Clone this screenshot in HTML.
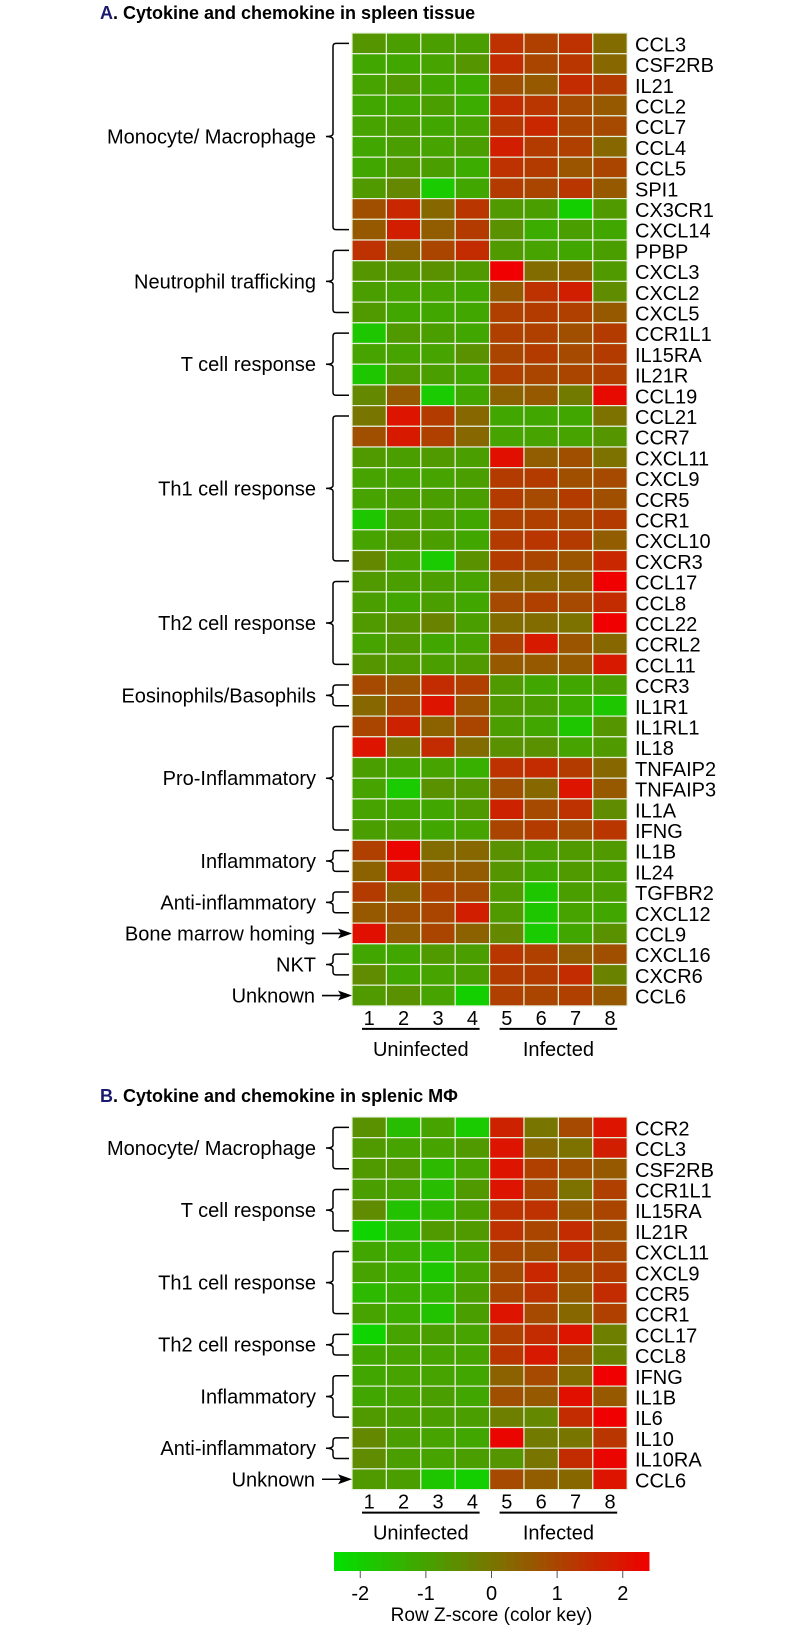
<!DOCTYPE html>
<html><head><meta charset="utf-8"><style>
html,body{margin:0;padding:0;background:#fff;}
svg{display:block;font-family:"Liberation Sans",Arial,sans-serif;}
</style></head><body>
<svg id="chart" width="800" height="1627" viewBox="0 0 800 1627" xmlns="http://www.w3.org/2000/svg">
<text x="100" y="19" font-size="18" font-weight="bold"><tspan fill="#1a1a70">A</tspan>. Cytokine and chemokine in spleen tissue</text>
<text x="100" y="1102" font-size="18" font-weight="bold"><tspan fill="#1a1a70">B</tspan>. Cytokine and chemokine in splenic MΦ</text>
<g id="gA"></g>
<g id="gB"></g>
<g id="gKey"></g>
</svg>
<script>
const genesA=["CCL3","CSF2RB","IL21","CCL2","CCL7","CCL4","CCL5","SPI1","CX3CR1","CXCL14","PPBP","CXCL3","CXCL2","CXCL5","CCR1L1","IL15RA","IL21R","CCL19","CCL21","CCR7","CXCL11","CXCL9","CCR5","CCR1","CXCL10","CXCR3","CCL17","CCL8","CCL22","CCRL2","CCL11","CCR3","IL1R1","IL1RL1","IL18","TNFAIP2","TNFAIP3","IL1A","IFNG","IL1B","IL24","TGFBR2","CXCL12","CCL9","CXCL16","CXCR6","CCL6"];
const valuesA=[
[-0.7,-0.9,-0.9,-0.9,1.4,1.1,1.4,0.2],
[-1.1,-1.1,-1.0,-0.7,1.5,1.0,1.3,0.3],
[-1.0,-0.8,-1.1,-1.2,0.8,0.6,1.5,1.2],
[-1.1,-1.1,-0.9,-1.2,1.5,1.3,0.9,0.6],
[-1.0,-0.9,-1.1,-1.0,1.3,1.6,1.0,0.9],
[-1.1,-0.9,-1.0,-0.9,1.8,1.2,1.1,0.3],
[-1.1,-0.8,-0.9,-1.2,1.4,1.2,0.7,1.0],
[-0.8,-0.4,-1.9,-1.1,1.2,1.0,1.3,0.6],
[0.8,1.6,0.3,1.3,-0.8,-0.9,-2.0,-0.8],
[0.6,1.8,0.5,1.2,-0.6,-1.2,-0.9,-1.1],
[1.4,0.4,1.0,1.5,-0.8,-1.0,-1.1,-0.9],
[-0.7,-0.7,-0.6,-0.8,2.4,0.2,0.4,-0.8],
[-0.9,-1.0,-1.0,-1.1,0.6,1.4,1.8,-0.5],
[-0.8,-1.1,-1.1,-1.1,1.1,1.2,1.1,0.6],
[-1.8,-0.8,-0.9,-1.1,1.1,1.1,0.8,1.2],
[-1.0,-1.0,-1.0,-0.6,1.0,1.2,0.9,1.2],
[-1.8,-0.8,-0.9,-1.1,1.1,1.0,1.0,1.1],
[-0.4,0.6,-1.9,-1.1,0.4,0.6,-0.1,2.2],
[0.0,2.0,1.2,0.3,-1.1,-1.1,-1.1,0.1],
[0.8,1.9,1.1,0.3,-1.0,-1.0,-1.0,-0.7],
[-0.8,-0.9,-0.8,-0.9,2.1,0.5,0.8,0.1],
[-1.0,-1.0,-1.0,-0.9,1.2,1.2,0.8,0.9],
[-1.0,-0.9,-0.9,-0.9,1.2,0.9,1.2,0.8],
[-1.8,-0.9,-0.9,-1.1,1.1,1.1,1.0,1.2],
[-1.0,-0.8,-0.9,-1.1,1.2,1.3,1.2,0.5],
[-0.4,-1.0,-1.9,-0.6,1.2,1.0,0.7,1.6],
[-0.8,-0.9,-0.9,-1.0,0.3,0.3,0.4,2.4],
[-0.9,-1.1,-0.9,-1.1,0.9,1.1,0.9,1.5],
[-0.8,-0.6,-0.3,-0.9,0.2,0.2,0.1,2.4],
[-1.0,-0.8,-1.1,-1.0,1.1,1.9,0.7,0.3],
[-0.7,-0.8,-0.9,-0.8,0.6,0.6,0.6,1.9],
[0.9,0.7,1.5,1.1,-0.8,-1.1,-1.1,-0.9],
[0.3,0.9,2.0,0.7,-0.8,-0.9,-1.2,-1.8],
[1.0,1.7,0.4,1.0,-0.9,-1.1,-1.8,-0.7],
[2.0,0.0,1.5,0.2,-0.6,-0.6,-1.0,-0.8],
[-0.9,-1.1,-1.0,-1.3,1.4,1.5,1.2,0.3],
[-1.0,-1.9,-0.6,-0.7,0.8,0.3,2.0,0.6],
[-1.0,-1.1,-1.1,-0.8,1.7,0.9,1.4,-0.5],
[-0.9,-0.9,-1.1,-1.0,1.0,1.2,0.9,1.3],
[1.1,2.3,0.2,0.3,-0.6,-0.9,-0.8,-0.8],
[0.4,2.0,0.6,0.5,-0.7,-1.1,-0.8,-0.9],
[1.2,0.4,1.1,0.9,-0.8,-1.8,-0.9,-0.9],
[0.6,0.8,1.0,1.8,-0.8,-1.8,-1.0,-1.1],
[2.1,0.5,1.0,0.4,-0.4,-1.9,-1.1,-0.6],
[-1.1,-1.1,-0.8,-0.9,1.3,1.1,0.5,0.8],
[-0.5,-1.1,-1.0,-0.9,1.2,1.2,1.5,-0.3],
[-0.8,-0.6,-1.0,-2.0,1.1,1.0,1.1,0.6]];
const groupsA=[["Monocyte/ Macrophage",0,9],["Neutrophil trafficking",10,13],["T cell response",14,17],["Th1 cell response",18,25],["Th2  cell response",26,30],["Eosinophils/Basophils",31,32],["Pro-Inflammatory",33,38],["Inflammatory",39,40],["Anti-inflammatory",41,42],["Bone marrow homing",43,43],["NKT",44,45],["Unknown",46,46]];
const genesB=["CCR2","CCL3","CSF2RB","CCR1L1","IL15RA","IL21R","CXCL11","CXCL9","CCR5","CCR1","CCL17","CCL8","IFNG","IL1B","IL6","IL10","IL10RA","CCL6"];
const valuesB=[
[-0.6,-1.6,-1.0,-1.9,1.7,0.0,0.9,2.0],
[-0.8,-1.0,-1.0,-0.8,2.0,0.3,0.1,1.8],
[-0.8,-0.8,-1.5,-1.0,2.0,1.1,0.8,0.6],
[-0.9,-1.0,-1.6,-0.8,2.0,1.0,0.1,1.1],
[-0.5,-1.7,-1.5,-0.9,1.4,1.4,0.6,1.0],
[-2.1,-1.6,-0.8,-0.8,1.4,1.0,1.5,0.8],
[-1.1,-1.2,-1.6,-1.0,1.0,0.8,1.5,1.0],
[-1.0,-1.2,-1.8,-1.0,0.9,1.6,0.8,1.2],
[-1.5,-1.2,-1.4,-0.9,1.0,1.4,0.6,1.5],
[-1.0,-1.2,-1.7,-0.9,2.0,0.9,0.3,1.1],
[-2.1,-1.0,-0.9,-1.0,1.1,1.5,2.0,-0.2],
[-1.1,-1.0,-1.0,-1.0,1.3,1.9,0.7,-0.3],
[-1.1,-1.0,-1.0,-1.1,0.4,0.9,0.2,2.4],
[-1.1,-1.0,-0.9,-1.1,0.8,0.6,2.1,0.6],
[-0.8,-0.9,-0.9,-0.9,-0.2,-0.4,1.5,2.4],
[-0.4,-0.9,-1.0,-1.1,2.3,-0.1,0.0,1.3],
[-0.5,-0.9,-1.0,-0.9,-0.7,0.0,1.5,2.3],
[-0.8,-0.9,-1.8,-2.0,0.9,0.5,0.3,2.0]];
const groupsB=[["Monocyte/ Macrophage",0,2],["T cell response",3,5],["Th1 cell response",6,9],["Th2  cell response",10,11],["Inflammatory",12,14],["Anti-inflammatory",15,16],["Unknown",17,17]];
const sampleLabels=["1","2","3","4","5","6","7","8"];
const keyTicks=[-2,-1,0,1,2];

const NS="http://www.w3.org/2000/svg";
const X0=352,COLW=34.4,ROWH=20.7,ZMIN=-2.4,ZMAX=2.4;
function mk(tag,attrs,parent){const e=document.createElementNS(NS,tag);for(const k in attrs)e.setAttribute(k,attrs[k]);parent.appendChild(e);return e;}
function color(z){z=Math.max(ZMIN,Math.min(ZMAX,z));let r,g,b=0;
 if(z<0){const t=(z-ZMIN)/(0-ZMIN);r=0+120*t;g=225+(118-225)*t;}
 else{const t=z/ZMAX;r=120+(240-120)*t;g=118*(1-t);}
 return `rgb(${Math.round(r)},${Math.round(g)},${Math.round(b)})`;}
function xCol(c){return X0+c*COLW;}
function drawPanel(g,top,genes,vals,groups,lblY){
 const n=genes.length;
 vals.forEach((row,r)=>row.forEach((v,c)=>{
  const el=mk('rect',{x:xCol(c),y:top+r*ROWH,width:COLW,height:ROWH,fill:color(v),stroke:'#e4efd8','stroke-width':1.2},g);
  
  
 }));
 genes.forEach((gn,r)=>{const t=mk('text',{x:635,y:top+(r+0.5)*ROWH+8,'font-size':20},g);t.textContent=gn;
  
  });
 groups.forEach(([name,a,b])=>{
  const y1=top+(a+0.5)*ROWH,y2=top+(b+0.5)*ROWH,ym=(y1+y2)/2;
  let shape;
  if(a===b){
   shape=mk('g',{},g);
   mk('line',{x1:322,y1:ym,x2:343,y2:ym,stroke:'#000','stroke-width':1.6},shape);
   mk('polygon',{points:`${352},${ym} ${338},${ym-5} ${341},${ym} ${338},${ym+5}`,fill:'#000'},shape);
  } else {
   shape=mk('path',{d:`M349,${y1} L336,${y1} Q333,${y1} 333,${y1+3} L333,${ym-3} Q333,${ym} 326,${ym} Q333,${ym} 333,${ym+3} L333,${y2-3} Q333,${y2} 336,${y2} L349,${y2}`,fill:'none',stroke:'#000','stroke-width':1.5},g);
  }
  
  
  const t=mk('text',{x:a===b?315:316,y:ym+7,'font-size':20,'text-anchor':'end'},g);t.textContent=name;
  
  
 });
 const bottom=top+n*ROWH;
 sampleLabels.forEach((s,c)=>{const t=mk('text',{x:xCol(c)+COLW/2,y:bottom+19,'font-size':20,'text-anchor':'middle'},g);t.textContent=s;
  
  });
 const u1=mk('line',{x1:xCol(0)+10,y1:bottom+23,x2:xCol(4)-10,y2:bottom+23,stroke:'#000','stroke-width':2},g);
 
 
 const u2=mk('line',{x1:xCol(4)+10,y1:bottom+23,x2:xCol(8)-10,y2:bottom+23,stroke:'#000','stroke-width':2},g);
 
 
 const t1=mk('text',{x:(xCol(0)+xCol(4))/2,y:bottom+50,'font-size':20,'text-anchor':'middle'},g);t1.textContent='Uninfected';
 
 
 const t2=mk('text',{x:(xCol(4)+xCol(8))/2,y:bottom+50,'font-size':20,'text-anchor':'middle'},g);t2.textContent='Infected';
 
 
}
drawPanel(document.getElementById('gA'),33,genesA,valuesA,groupsA);
drawPanel(document.getElementById('gB'),1117,genesB,valuesB,groupsB);

// color key
const gk=document.getElementById('gKey');
const KX0=334,KX1=649,KY=1552,KH=19;
function kx(z){return KX0+(z-ZMIN)/(ZMAX-ZMIN)*(KX1-KX0);}
const NB=40;
for(let i=0;i<NB;i++){const z=ZMIN+(i+0.5)*(ZMAX-ZMIN)/NB;
 const r=mk('rect',{x:kx(ZMIN+i*(ZMAX-ZMIN)/NB),y:KY,width:(KX1-KX0)/NB+0.5,height:KH,fill:color(z)},gk);
 
 }
keyTicks.forEach(v=>{
 const l=mk('line',{x1:kx(v),y1:KY+KH,x2:kx(v),y2:KY+KH+7,stroke:'#555','stroke-width':1},gk);
 
 
 const t=mk('text',{x:kx(v),y:KY+KH+29,'font-size':20,'text-anchor':'middle'},gk);t.textContent=v<0?'-'+Math.abs(v):String(v);
 
 
});
const kt=mk('text',{x:(KX0+KX1)/2,y:1621,'font-size':19,'text-anchor':'middle'},gk);kt.textContent='Row Z-score (color key)';


</script>
</body></html>
